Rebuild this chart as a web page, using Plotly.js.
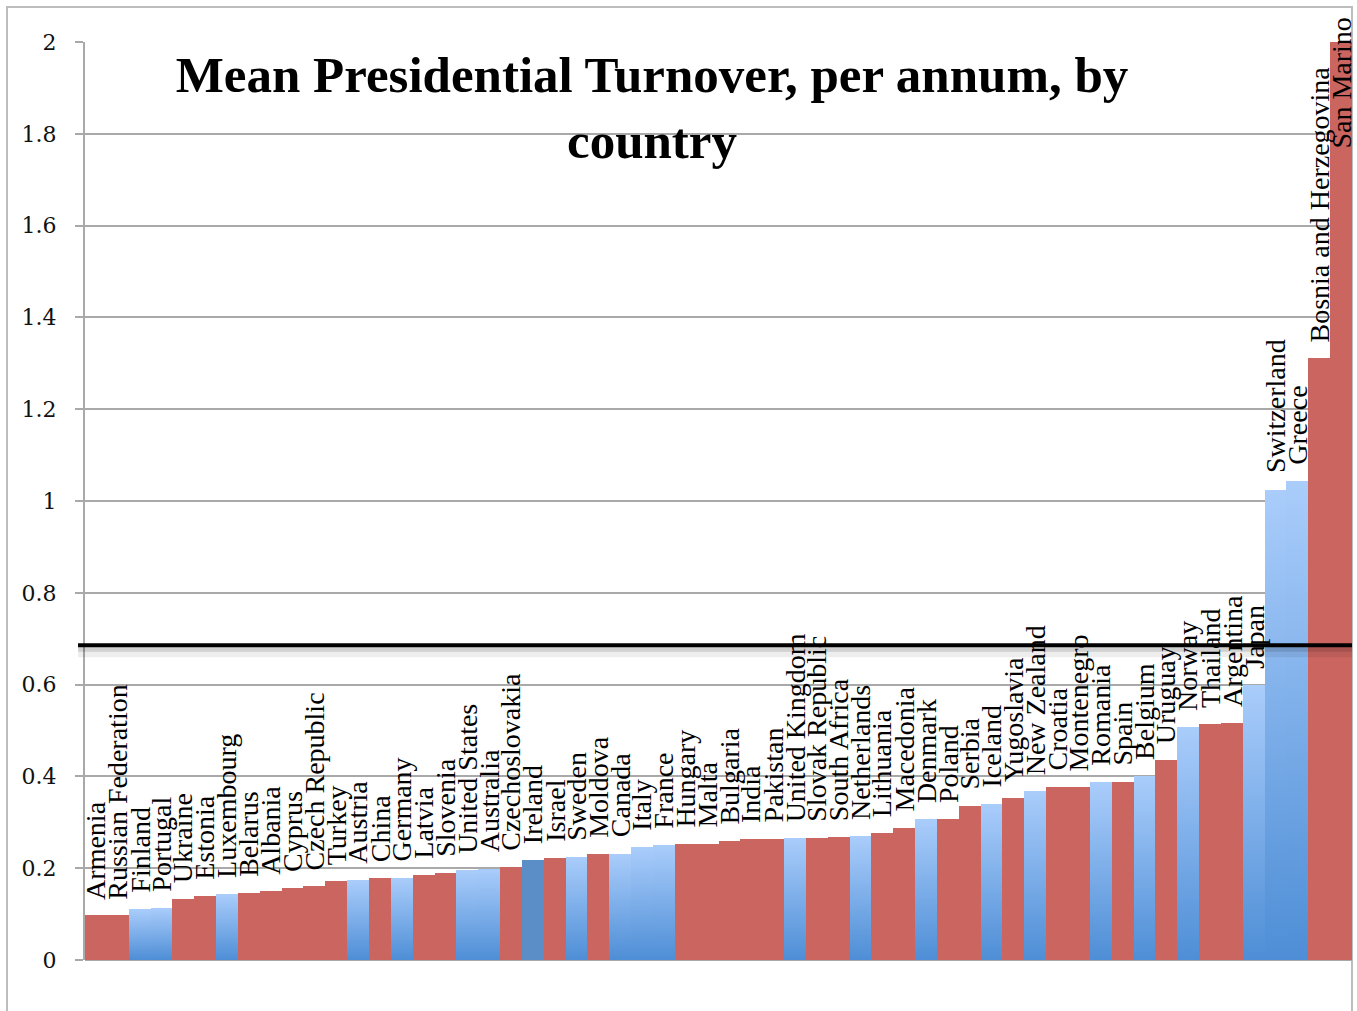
<!DOCTYPE html>
<html>
<head>
<meta charset="utf-8">
<script src="https://cdn.plot.ly/plotly-3.0.1.min.js"></script>
<style>
  html, body { margin: 0; padding: 0; background: #ffffff; }
  #chart { width: 1357px; height: 1011px; }
</style>
</head>
<body>
<div id="chart"></div>
<script>
// ---- Data ----
const countries = [
  "Armenia", "Russian Federation", "Finland", "Portugal", "Ukraine", "Estonia",
  "Luxembourg", "Belarus", "Albania", "Cyprus", "Czech Republic", "Turkey",
  "Austria", "China", "Germany", "Latvia", "Slovenia", "United States",
  "Australia", "Czechoslovakia", "Ireland", "Israel", "Sweden", "Moldova",
  "Canada", "Italy", "France", "Hungary", "Malta", "Bulgaria", "India",
  "Pakistan", "United Kingdom", "Slovak Republic", "South Africa", "Netherlands",
  "Lithuania", "Macedonia", "Denmark", "Poland", "Serbia", "Iceland",
  "Yugoslavia", "New Zealand", "Croatia", "Montenegro", "Romania", "Spain",
  "Belgium", "Uruguay", "Norway", "Thailand", "Argentina", "Japan",
  "Switzerland", "Greece", "Bosnia and Herzegovina", "San Marino"
];
const turnover = [
  0.097, 0.097, 0.111, 0.114, 0.133, 0.139,
  0.144, 0.146, 0.151, 0.157, 0.161, 0.172,
  0.174, 0.179, 0.179, 0.185, 0.190, 0.197,
  0.199, 0.203, 0.218, 0.222, 0.225, 0.232,
  0.232, 0.246, 0.251, 0.253, 0.253, 0.260, 0.264,
  0.264, 0.266, 0.266, 0.268, 0.270,
  0.277, 0.288, 0.307, 0.307, 0.336, 0.340,
  0.353, 0.368, 0.377, 0.377, 0.388, 0.388,
  0.401, 0.436, 0.508, 0.514, 0.516, 0.599,
  1.025, 1.044, 1.311, 2.000
];
// r = red group, b = blue group, d = dark blue (Ireland)
const group = [
  "r", "r", "b", "b", "r", "r",
  "b", "r", "r", "r", "r", "r",
  "b", "r", "b", "r", "r", "b",
  "b", "r", "d", "r", "b", "r",
  "b", "b", "b", "r", "r", "r", "r",
  "r", "b", "r", "r", "b",
  "r", "r", "b", "r", "r", "b",
  "r", "b", "r", "r", "b", "r",
  "b", "r", "b", "r", "r", "b",
  "b", "b", "r", "r"
];
const threshold = 0.686;
const yTicks = [0, 0.2, 0.4, 0.6, 0.8, 1, 1.2, 1.4, 1.6, 1.8, 2];
const chartTitle = "Mean Presidential Turnover, per annum, by<br>country";

// ---- Styles ----
const groupColor = { r: "#CB6560", b: "#7DAEEA", d: "#5B8EC6" };
const gridGray = "#A9A9A9";

const trace = {
  type: "bar",
  x: countries,
  y: turnover,
  marker: { color: group.map(g => groupColor[g]), line: { width: 0 } },
  hoverinfo: "x+y"
};

const annotations = countries.map((c, i) => {
  const v = turnover[i];
  const inside = v > 1.6;
  return {
    x: c, y: v, xref: "x", yref: "y",
    text: c, textangle: -90, showarrow: false,
    xanchor: "center",
    yanchor: inside ? "top" : "bottom",
    yshift: inside ? 26 : 14,
    font: { family: "Liberation Serif, Times New Roman, serif", size: 28, color: "#000000" }
  };
});

const pxPerPaperX = 1267, pxPerPaperY = 918;
const shapes = [
  // outer chart frame
  { type: "rect", xref: "paper", yref: "paper",
    x0: (7 - 85) / pxPerPaperX, x1: 1.0, y0: -0.1, y1: (960 - 7) / pxPerPaperY,
    line: { color: "#BDBDBD", width: 2 }, fillcolor: "rgba(0,0,0,0)", layer: "below" },
  // shadow of threshold line
  { type: "line", xref: "paper", yref: "y", ysizemode: "pixel", yanchor: threshold,
    x0: -0.0055, x1: 1.0, y0: -7, y1: -7,
    line: { color: "rgba(0,0,0,0.07)", width: 10 } },
  { type: "line", xref: "paper", yref: "y", ysizemode: "pixel", yanchor: threshold,
    x0: -0.0055, x1: 1.0, y0: -4, y1: -4,
    line: { color: "rgba(0,0,0,0.12)", width: 5 } },
  // threshold line
  { type: "line", xref: "paper", yref: "y",
    x0: -0.0055, x1: 1.0, y0: threshold, y1: threshold,
    line: { color: "#000000", width: 4 } }
];

const layout = {
  width: 1357, height: 1011,
  margin: { l: 85, r: 5, t: 42, b: 51, pad: 0 },
  paper_bgcolor: "#ffffff", plot_bgcolor: "#ffffff",
  showlegend: false,
  bargap: 0,
  title: {
    text: chartTitle,
    xref: "container", yref: "container",
    x: 652 / 1357, xanchor: "center",
    y: 1 - 92 / 1011, yanchor: "top",
    font: { family: "Liberation Serif, Times New Roman, serif", size: 51, color: "#000000", weight: "bold" }
  },
  xaxis: {
    type: "category",
    categoryorder: "array", categoryarray: countries,
    showticklabels: false, ticks: "",
    showgrid: false, zeroline: false,
    showline: false,
    range: [-0.5, countries.length - 0.5]
  },
  yaxis: {
    range: [0, 2],
    tickvals: yTicks,
    ticks: "outside", ticklen: 8, tickwidth: 2, tickcolor: gridGray,
    ticklabelstandoff: 14,
    tickfont: { family: "DejaVu Serif, serif", size: 22, color: "#111111" },
    showgrid: true, gridcolor: gridGray, gridwidth: 2,
    zeroline: true, zerolinecolor: gridGray, zerolinewidth: 2,
    showline: true, linecolor: gridGray, linewidth: 2
  },
  annotations: annotations,
  shapes: shapes
};

Plotly.newPlot("chart", [trace], layout, { displayModeBar: false, staticPlot: true }).then(gd => {
  // Apply a vertical gradient to the blue-group bars (light top, darker bottom)
  const svg = gd.querySelector("svg.main-svg");
  const NS = "http://www.w3.org/2000/svg";
  let defs = svg.querySelector("defs");
  if (!defs) { defs = document.createElementNS(NS, "defs"); svg.insertBefore(defs, svg.firstChild); }
  const grad = document.createElementNS(NS, "linearGradient");
  grad.setAttribute("id", "blueBarGrad");
  grad.setAttribute("x1", "0"); grad.setAttribute("y1", "0");
  grad.setAttribute("x2", "0"); grad.setAttribute("y2", "1");
  [["0%", "#AACDFB"], ["100%", "#4E8ED6"]].forEach(([o, c]) => {
    const s = document.createElementNS(NS, "stop");
    s.setAttribute("offset", o); s.setAttribute("stop-color", c);
    grad.appendChild(s);
  });
  defs.appendChild(grad);
  const paths = gd.querySelectorAll(".barlayer .trace .point path");
  paths.forEach((p, i) => {
    if (group[i] === "b") p.style.fill = "url(#blueBarGrad)";
  });
});
</script>
</body>
</html>
